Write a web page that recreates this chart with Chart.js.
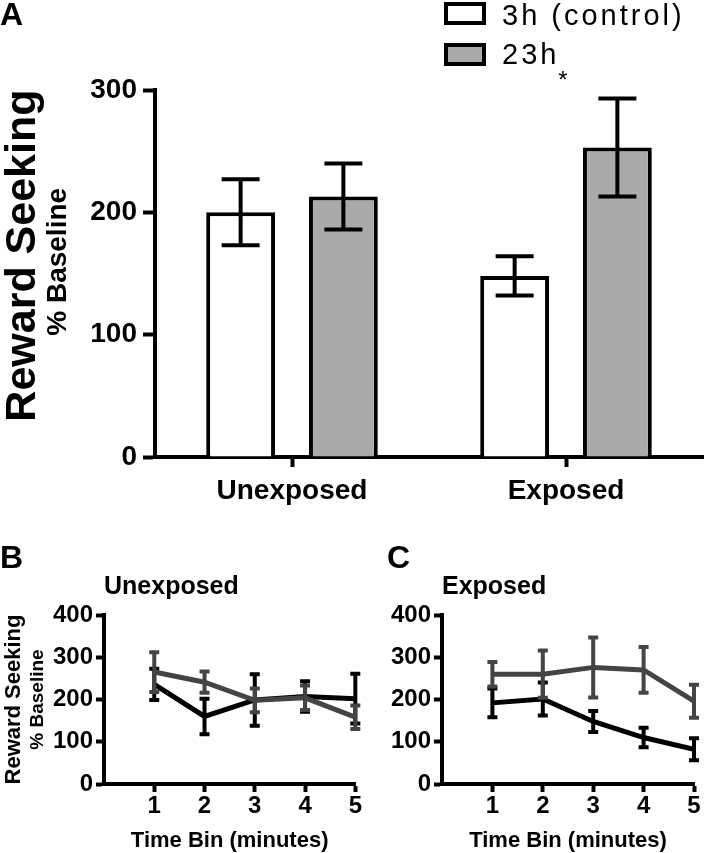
<!DOCTYPE html>
<html>
<head>
<meta charset="utf-8">
<script src="https://cdn.jsdelivr.net/npm/chart.js@4.4.1/dist/chart.umd.min.js"></script>
<style>
  body { margin: 0; background: #fff; width: 706px; height: 853px; overflow: hidden; position: relative; font-family: "Liberation Sans", Arial, sans-serif; }
  .panel { position: absolute; }
  .key { position: absolute; left: 444px; width: 42px; height: 23px; box-sizing: border-box; border: 4px solid #000; }
  .keytext { position: absolute; left: 502px; font-size: 29px; line-height: 1; letter-spacing: 3px; color: #000; white-space: nowrap; }
</style>
</head>
<body>
<div class="panel" style="left:0;top:0;width:706px;height:520px"><canvas id="chartA"></canvas></div>
<div class="panel" style="left:0;top:535px;width:362px;height:318px"><canvas id="chartB"></canvas></div>
<div class="panel" style="left:362px;top:535px;width:344px;height:318px"><canvas id="chartC"></canvas></div>

<div class="key" style="top:2px;background:#fff"></div>
<div class="keytext" style="top:1px">3h (control)</div>
<div class="key" style="top:43px;background:#aaa"></div>
<div class="keytext" style="top:40px">23h</div>

<script>
// panel A: mean reward seeking (% baseline) per group
const groups = ['Unexposed', 'Exposed']
const control3h = [200, 148]
const control3hErr = [27, 16]
const deprived23h = [213, 253]
const deprived23hErr = [27, 40]

// panels B and C: time course
const timeBins = [1, 2, 3, 4, 5]
const unexp3h = [236, 160, 199, 207, 202]
const unexp3hErr = [37, 42, 61, 36, 59]
const unexp23h = [265, 241, 198, 204, 158]
const unexp23hErr = [47, 25, 28, 29, 28]
const exp3h = [192, 201, 148, 110, 82]
const exp3hErr = [34, 39, 25, 23, 26]
const exp23h = [260, 260, 276, 270, 196]
const exp23hErr = [29, 56, 71, 54, 39]

Chart.defaults.font.family = '"Liberation Sans", Arial, sans-serif'
Chart.defaults.color = '#000'

const errorBars = {
  id: 'errorBars',
  afterDatasetDraw(chart, args, opts) {
    const ds = chart.data.datasets[args.index]
    if (!ds.errors) return
    const yScale = chart.scales.y
    const ctx = chart.ctx
    ctx.save()
    ctx.strokeStyle = ds.errorColor || '#000'
    ctx.lineWidth = opts.lineWidth || 4
    args.meta.data.forEach((el, i) => {
      const v = ds.data[i]
      const top = yScale.getPixelForValue(v + ds.errors[i])
      const bot = yScale.getPixelForValue(v - ds.errors[i])
      const half = opts.capWidth / 2
      ctx.beginPath()
      ctx.moveTo(el.x, top); ctx.lineTo(el.x, bot)
      ctx.moveTo(el.x - half, top); ctx.lineTo(el.x + half, top)
      ctx.moveTo(el.x - half, bot); ctx.lineTo(el.x + half, bot)
      ctx.stroke()
    })
    ctx.restore()
  }
}

const significance = {
  id: 'significance',
  afterDraw(chart) {
    const ctx = chart.ctx
    ctx.save()
    ctx.font = '24px "Liberation Sans", Arial'
    ctx.fillStyle = '#000'
    ctx.textAlign = 'center'
    ctx.textBaseline = 'middle'
    ctx.fillText('*', chart.scales.x.getPixelForValue(1) - 3, chart.chartArea.top - 9)
    ctx.restore()
  }
}

// an axis that only carries a title, used for the two-line y label
function titleAxis(text, size, weight, width, pad) {
  return {
    position: 'left',
    weight: weight,
    display: true,
    ticks: { display: false },
    grid: { display: false, drawTicks: false },
    border: { display: false },
    title: { display: true, text: text, color: '#000', font: { size: size, weight: 'bold', lineHeight: 1 }, padding: { top: pad, bottom: 0 } },
    afterFit: s => { s.width = width }
  }
}

new Chart(document.getElementById('chartA'), {
  type: 'bar',
  data: {
    labels: groups,
    datasets: [
      { label: '3h (control)', data: control3h, errors: control3hErr, backgroundColor: '#ffffff', borderColor: '#000', borderWidth: 4 },
      { label: '23h', data: deprived23h, errors: deprived23hErr, backgroundColor: '#aaaaaa', borderColor: '#000', borderWidth: 4 }
    ]
  },
  options: {
    responsive: true,
    maintainAspectRatio: false,
    animation: false,
    categoryPercentage: 0.75,
    barPercentage: 0.67,
    layout: { padding: { left: 0, right: 3, top: 0, bottom: 0 } },
    plugins: {
      legend: { display: false },
      tooltip: { enabled: false },
      title: { display: true, text: 'A', align: 'start', color: '#000', font: { size: 32, weight: 'bold', lineHeight: 1 }, padding: { top: 0, bottom: 58 } },
      errorBars: { capWidth: 38, lineWidth: 4 }
    },
    scales: {
      x: {
        grid: { offset: false, drawOnChartArea: false, tickLength: 10, tickWidth: 4, tickColor: '#000' },
        border: { color: '#000', width: 4 },
        ticks: { font: { size: 28, weight: 'bold' }, color: '#000', padding: 7 },
        afterFit: s => { s.height = 63 }
      },
      y: {
        min: 0,
        max: 300,
        ticks: { stepSize: 100, font: { size: 28, weight: 'bold' }, color: '#000', padding: 6 },
        grid: { drawOnChartArea: false, tickLength: 12, tickWidth: 4, tickColor: '#000' },
        border: { color: '#000', width: 4 },
        afterFit: s => { s.width = 83 }
      },
      yBaseline: titleAxis('   % Baseline', 28, 1, 28, 0),
      yTitle: titleAxis('   Reward Seeking', 43, 2, 44, 2)
    }
  },
  plugins: [errorBars, significance]
})

function timeChart(id, letter, title, ctrl, ctrlErr, dep, depErr, withTitle) {
  const scales = {
    x: {
      type: 'linear',
      min: 0,
      max: 5,
      ticks: { stepSize: 1, font: { size: 24, weight: 'bold' }, color: '#000', padding: 0 },
      afterBuildTicks: s => { s.ticks = s.ticks.filter(t => t.value > 0) },
      grid: { drawOnChartArea: false, tickLength: 8, tickWidth: 4, tickColor: '#000' },
      border: { color: '#000', width: 4 },
      title: { display: true, text: 'Time Bin (minutes)', color: '#000', font: { size: 22, weight: 'bold', lineHeight: 1 }, padding: { top: 0, bottom: 1 } },
      afterFit: s => { s.height = 69 }
    },
    y: {
      min: 0,
      max: 400,
      ticks: { stepSize: 100, font: { size: 24, weight: 'bold' }, color: '#000', padding: 3 },
      grid: { drawOnChartArea: false, tickLength: 8, tickWidth: 4, tickColor: '#000' },
      border: { color: '#000', width: 4 },
      afterFit: s => { s.width = withTitle ? 62 : 55 }
    }
  }
  if (withTitle) {
    scales.yBaseline = titleAxis('% Baseline', 19, 1, 14, 0)
    scales.yTitle = titleAxis('Reward Seeking', 22, 2, 28, 3)
  }
  new Chart(document.getElementById(id), {
    type: 'line',
    data: {
      labels: timeBins,
      datasets: [
        { label: '3h (control)', data: ctrl, errors: ctrlErr, borderColor: '#000', errorColor: '#000', borderWidth: 5, pointRadius: 0, order: 1 },
        { label: '23h', data: dep, errors: depErr, borderColor: '#444', errorColor: '#444', borderWidth: 5, pointRadius: 0, order: 0 }
      ]
    },
    options: {
      responsive: true,
      maintainAspectRatio: false,
      animation: false,
      layout: { padding: { left: withTitle ? 0 : 25, right: withTitle ? 3 : 12, top: 0, bottom: 0 } },
      plugins: {
        legend: { display: false },
        tooltip: { enabled: false },
        title: { display: true, text: letter, align: 'start', color: '#000', font: { size: 32, weight: 'bold', lineHeight: 1 }, padding: { top: 8, bottom: 0 } },
        subtitle: { display: true, text: title, align: 'start', fullSize: false, color: '#000', font: { size: 25, weight: 'bold', lineHeight: 1 }, padding: { top: 0, bottom: 15 } },
        errorBars: { capWidth: 10, lineWidth: 4 }
      },
      scales: scales
    },
    plugins: [errorBars]
  })
}

timeChart('chartB', 'B', 'Unexposed', unexp3h, unexp3hErr, unexp23h, unexp23hErr, true)
timeChart('chartC', 'C', 'Exposed', exp3h, exp3hErr, exp23h, exp23hErr, false)
</script>
</body>
</html>
